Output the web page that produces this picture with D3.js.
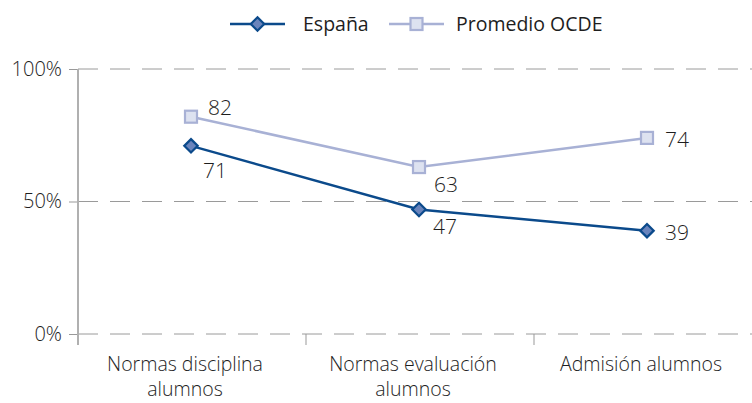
<!DOCTYPE html>
<html>
<head>
<meta charset="utf-8">
<script src="https://cdn.jsdelivr.net/npm/d3@7/dist/d3.min.js"></script>
<style>
  html, body { margin: 0; padding: 0; background: #fff; }
  svg { display: block; }
  text { font-family: "Open Sans", Lato, sans-serif; fill: #1e1e1e; }
</style>
</head>
<body>
<svg id="chart" width="752" height="403"></svg>
<script>
// Categories and series
const categories = ["Normas disciplina\nalumnos", "Normas evaluación\nalumnos", "Admisión alumnos"];
const espana = [71, 47, 39];
const ocde = [82, 63, 74];
const yTicks = [0, 50, 100];
const seriesNames = ["España", "Promedio OCDE"];

const svg = d3.select("#chart");
const W = 752;
const m = { left: 78 };
const plotRight = 762;

const x = d3.scaleBand().domain(categories).range([m.left, plotRight]);
const y = d3.scaleLinear().domain([0, 100]).range([334, 69]);

const styles = [
  { color: "#0b4a8b", fill: "#6a84bc", shape: "diamond" },
  { color: "#a8b1d5", fill: "#dde2f0", shape: "square" }
];

// Gridlines
svg.append("g").selectAll("line").data(yTicks).join("line")
  .attr("x1", m.left).attr("x2", W)
  .attr("y1", d => y(d)).attr("y2", d => y(d))
  .attr("stroke", "#9a9a9a").attr("stroke-width", 1)
  .attr("stroke-dasharray", "20,12");

// Y axis
const yAxis = d3.axisLeft(y).tickValues(yTicks).tickFormat(d => d + "%").tickSize(9).tickPadding(7);
const gy = svg.append("g").attr("transform", `translate(${m.left},0)`).call(yAxis);
gy.select(".domain").remove();
gy.selectAll(".tick line").attr("stroke", "#999");
gy.selectAll(".tick text")
  .style("font-size", "20px").style("font-weight", "300")
  .style("font-family", "'Open Sans', sans-serif").attr("fill", "#1e1e1e");
svg.append("line").attr("x1", m.left).attr("x2", m.left).attr("y1", y(100)).attr("y2", y(0) + 11)
  .attr("stroke", "#b0b0b0").attr("stroke-width", 2);

// X axis boundary ticks
svg.append("g").selectAll("line").data(categories.slice(1)).join("line")
  .attr("x1", d => x(d)).attr("x2", d => x(d))
  .attr("y1", y(0)).attr("y2", y(0) + 11)
  .attr("stroke", "#999").attr("stroke-width", 1);

// Category labels
const cx = i => x(categories[i]) + x.bandwidth() / 2 - 1;
svg.append("g").selectAll("text").data(categories).join("text")
  .attr("text-anchor", "middle")
  .attr("y", 371)
  .style("font-size", "19.5px").style("font-weight", "300")
  .each(function(d, i) {
    d3.select(this).selectAll("tspan").data(d.split("\n")).join("tspan")
      .attr("x", cx(i) - 6)
      .attr("dy", (l, j) => j === 0 ? 0 : 25)
      .text(l => l);
  });

function marker(g, shape, px, py, st) {
  if (shape === "diamond") {
    g.append("path")
      .attr("d", d3.symbol(d3.symbolDiamond2, 115)())
      .attr("transform", `translate(${px},${py})`)
      .attr("fill", st.fill).attr("stroke", st.color).attr("stroke-width", 2.2);
  } else {
    g.append("rect").attr("x", px - 6).attr("y", py - 6).attr("width", 12).attr("height", 12)
      .attr("fill", st.fill).attr("stroke", st.color).attr("stroke-width", 2.2);
  }
}

const line = d3.line().x((d, i) => cx(i)).y(d => y(d));

// OCDE first, España on top
[[ocde, 1], [espana, 0]].forEach(([vals, si]) => {
  const st = styles[si];
  const g = svg.append("g");
  g.append("path").datum(vals).attr("d", line)
    .attr("fill", "none").attr("stroke", st.color).attr("stroke-width", 2.5);
  vals.forEach((v, i) => marker(g, st.shape, cx(i), y(v), st));
});

// Value labels
const labelOffsets = {
  ocde: [[17, -2], [15, 25], [18, 9]],
  espana: [[12, 32], [14, 25], [18, 9]]
};
[["ocde", ocde], ["espana", espana]].forEach(([k, vals]) => {
  vals.forEach((v, i) => {
    svg.append("text")
      .attr("x", cx(i) + labelOffsets[k][i][0])
      .attr("y", y(v) + labelOffsets[k][i][1])
      .style("font-size", "21px").style("font-weight", "300")
      .text(v);
  });
});

// Legend
const leg = svg.append("g");
[[230, 0, 73], [389, 1, 67]].forEach(([lx, si, tx]) => {
  const st = styles[si];
  leg.append("line").attr("x1", lx).attr("x2", lx + 55).attr("y1", 24).attr("y2", 24)
    .attr("stroke", st.color).attr("stroke-width", 2.5);
  marker(leg, st.shape, lx + 27.5, 24, st);
  leg.append("text").attr("x", lx + tx).attr("y", 31)
    .style("font-size", "19.5px").style("font-weight", "500")
    .text(seriesNames[si]);
});
</script>
</body>
</html>
